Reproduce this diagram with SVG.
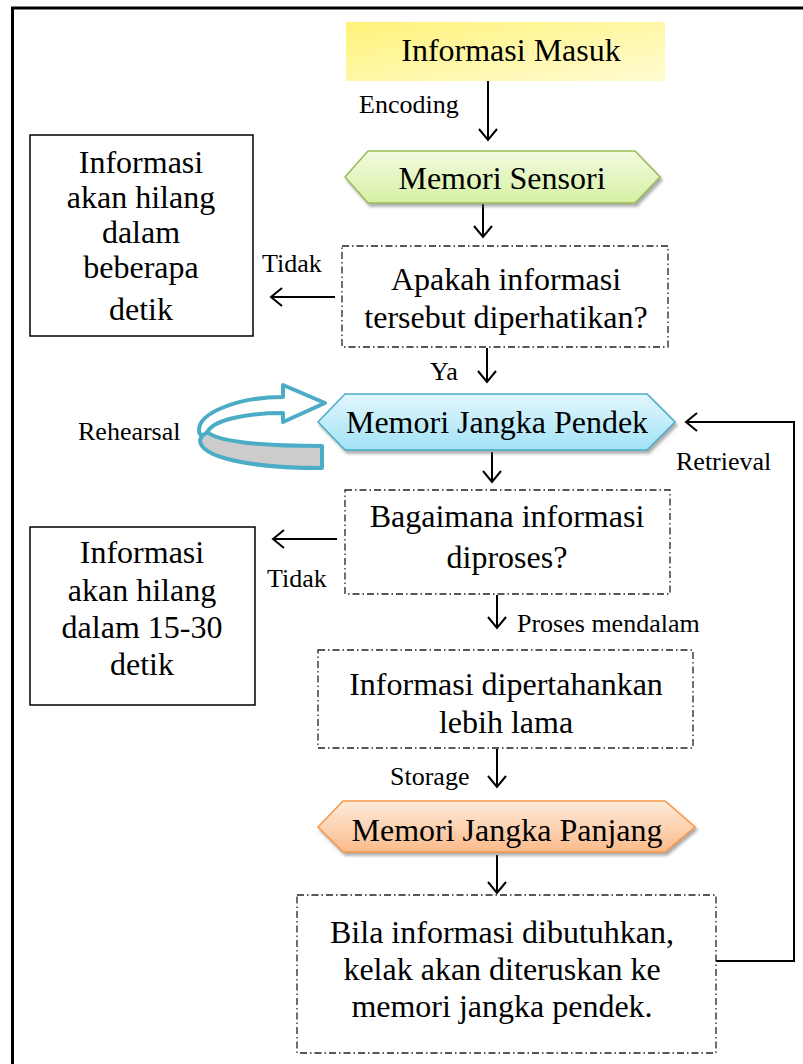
<svg xmlns="http://www.w3.org/2000/svg" width="803" height="1064" viewBox="0 0 803 1064">
<defs>
<style>
text{font-family:"Liberation Serif","Times New Roman",serif;fill:#000}
.main{font-size:32px;text-anchor:middle}
.lbl{font-size:26px}
.box{fill:#fff;stroke:#000;stroke-width:1.5}
.dd{fill:#fff;stroke:#222;stroke-width:1.3;stroke-dasharray:7 3 1.5 3}
.conn{fill:none;stroke:#000;stroke-width:2}
</style>
<linearGradient id="gY" x1="0" y1="0" x2="1" y2="1">
<stop offset="0" stop-color="#fff37a"/><stop offset="1" stop-color="#fffbd2"/>
</linearGradient>
<linearGradient id="gG" x1="0" y1="0" x2="0" y2="1">
<stop offset="0" stop-color="#f2fbe0"/><stop offset="1" stop-color="#d6f0a4"/>
</linearGradient>
<linearGradient id="gB" x1="0" y1="0" x2="0" y2="1">
<stop offset="0" stop-color="#e2f7fd"/><stop offset="1" stop-color="#a2e2f6"/>
</linearGradient>
<linearGradient id="gO" x1="0" y1="0" x2="0" y2="1">
<stop offset="0" stop-color="#fdebdc"/><stop offset="1" stop-color="#fbbb8a"/>
</linearGradient>
<filter id="sh" x="-10%" y="-20%" width="120%" height="150%">
<feDropShadow dx="2" dy="3" stdDeviation="1.5" flood-color="#666" flood-opacity="0.55"/>
</filter>
<marker id="ah" viewBox="-13 -11 15 22" refX="0" refY="0" markerWidth="15" markerHeight="22" markerUnits="userSpaceOnUse" orient="auto">
<path d="M-11,-9 L0,0 L-11,9" fill="none" stroke="#000" stroke-width="2"/>
</marker>
</defs>

<g id="frame">
<polyline points="12.5,1064 12.5,8 803,8" fill="none" stroke="#000" stroke-width="3"/>
</g>

<g id="connectors">
<line class="conn" x1="488" y1="81" x2="488" y2="140" marker-end="url(#ah)"/>
<line class="conn" x1="483" y1="204" x2="483" y2="237" marker-end="url(#ah)"/>
<line class="conn" x1="335" y1="297" x2="271" y2="297" marker-end="url(#ah)"/>
<line class="conn" x1="487" y1="348" x2="487" y2="382" marker-end="url(#ah)"/>
<line class="conn" x1="492" y1="452" x2="492" y2="482" marker-end="url(#ah)"/>
<line class="conn" x1="337" y1="539" x2="273" y2="539" marker-end="url(#ah)"/>
<line class="conn" x1="497" y1="595" x2="497" y2="628" marker-end="url(#ah)"/>
<line class="conn" x1="497" y1="749" x2="497" y2="787" marker-end="url(#ah)"/>
<line class="conn" x1="497" y1="855" x2="497" y2="893" marker-end="url(#ah)"/>
<polyline class="conn" points="716,961 794,961 794,422 686,422" marker-end="url(#ah)"/>
</g>

<g id="labels">
<text class="lbl" x="359" y="113">Encoding</text>
<text class="lbl" x="262" y="272">Tidak</text>
<text class="lbl" x="430" y="380">Ya</text>
<text class="lbl" x="78" y="440">Rehearsal</text>
<text class="lbl" x="676" y="470">Retrieval</text>
<text class="lbl" x="267" y="587">Tidak</text>
<text class="lbl" x="517" y="632">Proses mendalam</text>
<text class="lbl" x="390" y="785">Storage</text>
</g>

<g id="rehearsal-arrow">
<path d="M205,430 C214,442 262,446 322,446 L322,468 C252,468 200,458 200,440 Z" fill="#cccccc" stroke="#4bacc6" stroke-width="4" stroke-linejoin="round"/>
<path d="M283,385 L325,403 L283,422 L283,413 C242,413 214,421 208,431 C203,437 199,436 199,430 C199,412 240,397 283,397 Z" fill="#fff" stroke="#4bacc6" stroke-width="4" stroke-linejoin="round"/>
</g>

<g id="n-masuk">
<rect x="346" y="22" width="319" height="59" fill="url(#gY)"/>
<text class="main" x="511" y="61">Informasi Masuk</text>
</g>

<g id="n-sensori">
<polygon points="345,177 368,151 635,151 660,177 635,203 368,203" fill="url(#gG)" stroke="#9bbb59" stroke-width="1.5" filter="url(#sh)"/>
<text class="main" x="502" y="189">Memori Sensori</text>
</g>

<g id="n-hilang1">
<rect class="box" x="30" y="135" width="223" height="201"/>
<text class="main" x="141" y="173">Informasi</text>
<text class="main" x="141" y="208">akan hilang</text>
<text class="main" x="141" y="243">dalam</text>
<text class="main" x="141" y="278">beberapa</text>
<text class="main" x="141" y="320">detik</text>
</g>

<g id="n-apakah">
<rect class="dd" x="342" y="246" width="326" height="101"/>
<text class="main" x="506" y="290">Apakah informasi</text>
<text class="main" x="506" y="328">tersebut diperhatikan?</text>
</g>

<g id="n-pendek">
<polygon points="318,422 345,394 647,394 675,422 647,450 345,450" fill="url(#gB)" stroke="#4bacc6" stroke-width="1.5" filter="url(#sh)"/>
<text class="main" x="497" y="433">Memori Jangka Pendek</text>
</g>

<g id="n-bagaimana">
<rect class="dd" x="345" y="490" width="325" height="104"/>
<text class="main" x="507" y="527">Bagaimana informasi</text>
<text class="main" x="507" y="568">diproses?</text>
</g>

<g id="n-hilang2">
<rect class="box" x="30" y="527" width="225" height="178"/>
<text class="main" x="142" y="563">Informasi</text>
<text class="main" x="142" y="601">akan hilang</text>
<text class="main" x="142" y="638">dalam 15-30</text>
<text class="main" x="142" y="675">detik</text>
</g>

<g id="n-dipertahankan">
<rect class="dd" x="318" y="650" width="375" height="98"/>
<text class="main" x="506" y="695">Informasi dipertahankan</text>
<text class="main" x="506" y="733">lebih lama</text>
</g>

<g id="n-panjang">
<polygon points="318,827 343,801 665,801 695,827 665,852 343,852" fill="url(#gO)" stroke="#f79646" stroke-width="1.5" filter="url(#sh)"/>
<text class="main" x="507" y="841">Memori Jangka Panjang</text>
</g>

<g id="n-bila">
<rect class="dd" x="297" y="895" width="419" height="158"/>
<text class="main" x="502" y="943">Bila informasi dibutuhkan,</text>
<text class="main" x="502" y="980">kelak akan diteruskan ke</text>
<text class="main" x="502" y="1017">memori jangka pendek.</text>
</g>
</svg>
